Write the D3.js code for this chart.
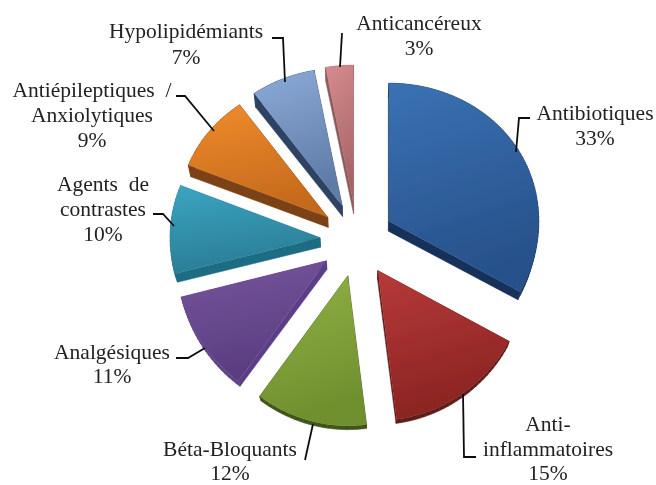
<!DOCTYPE html>
<html>
<head>
<meta charset="utf-8">
<script src="https://cdn.jsdelivr.net/npm/d3@7/dist/d3.min.js"></script>
<style>
  html, body { margin: 0; padding: 0; background: #fff; }
  text { font-family: "Liberation Serif", serif; font-size: 21.5px; fill: #222; text-anchor: middle; }
</style>
</head>
<body>
<script>
// data
var categories = ["Antibiotiques", "Anti-inflammatoires", "Béta-Bloquants", "Analgésiques",
                  "Agents de contrastes", "Antiépileptiques / Anxiolytiques", "Hypolipidémiants", "Anticancéreux"];
var values = [33, 15, 12, 11, 10, 9, 7, 3];
var labelLines = [
  ["Antibiotiques"], ["Anti-", "inflammatoires"], ["Béta-Bloquants"], ["Analgésiques"],
  ["Agents  de", "contrastes"], ["Antiépileptiques  /", "Anxiolytiques"], ["Hypolipidémiants"], ["Anticancéreux"]
];
var topColors = ["#3A72B4", "#B8393A", "#90B245", "#76569E", "#3BA5C2", "#F08B2C", "#8DABD8", "#D68C8E"];
var bottomColors = ["#27518A", "#8A2422", "#6F8F2E", "#5A3C80", "#2A7D96", "#C56A1C", "#5E7BA6", "#A66466"];
var wallColors = ["#16305A", "#5D1A19", "#3F5218", "#5C3E87", "#1F6C84", "#7A4312", "#2F4263", "#8C5A5A"];

// layout
var width = 656, height = 485;
var cx = 357, cy = 240, radius = 150, explode = 37;
var labelPos = [[595, 120], [548, 431], [230, 456], [112, 359], [103, 191], [92, 97], [186, 38], [419, 30]];
var labelStep = [25, 24.5, 24, 24, 25, 25, 26, 25];
var leaders = [
  [[516, 152], [519, 118], [530, 118]],
  [[463, 394], [464, 457], [476, 457]],
  [[313, 424], [305, 460]],
  [[205, 348], [188, 358], [176, 358]],
  [[174, 226], [163, 214], [153, 214]],
  [[214, 131], [185, 96], [176, 96]],
  [[285, 82], [283, 38], [272, 38]],
  [[340, 67], [342, 33]]
];

var svg = d3.select("body").append("svg")
    .attr("width", width)
    .attr("height", height);

var defs = svg.append("defs");

// the reference is a soft scan
defs.append("filter").attr("id", "soft")
    .append("feGaussianBlur").attr("stdDeviation", 0.45);

values.forEach(function(v, i) {
  var g = defs.append("linearGradient")
      .attr("id", "face" + i)
      .attr("x1", 0).attr("y1", 0).attr("x2", 0.25).attr("y2", 1);
  g.append("stop").attr("offset", "0%").attr("stop-color", topColors[i]);
  g.append("stop").attr("offset", "100%").attr("stop-color", bottomColors[i]);
});

// tilted disc: the near side of the pie looks a bit bigger than the far side
function project(angle, r) {
  var k = r / radius;
  return [k * radius * Math.sin(angle),
          -Math.cos(angle) * k * (144 - 6 * Math.cos(angle))];
}

// lower face of the slab, drawn as a shift towards the vanishing point
function lower(p) {
  return [p[0] + (cx - p[0]) * 0.015, p[1] + 10 - 0.03 * (p[1] - 220)];
}

var pie = d3.pie().sort(null).value(function(d) { return d; });
var line = d3.line();

var chart = svg.append("g").attr("filter", "url(#soft)");

var slices = chart.selectAll(".slice")
    .data(pie(values))
  .enter().append("g")
    .attr("class", "slice");

slices.each(function(d, i) {
  var g = d3.select(this);
  var mid = (d.startAngle + d.endAngle) / 2;
  var ox = cx + explode * Math.sin(mid);
  var oy = cy - explode * Math.cos(mid);

  // outline of the slice: apex then rim
  var n = Math.max(6, Math.round((d.endAngle - d.startAngle) * 30));
  var outline = [[ox, oy]];
  d3.range(n + 1).forEach(function(j) {
    var a = d.startAngle + (d.endAngle - d.startAngle) * j / n;
    var p = project(a, radius);
    outline.push([ox + p[0], oy + p[1]]);
  });

  // side wall, one quad per outline segment
  outline.forEach(function(p, j) {
    var q = outline[(j + 1) % outline.length];
    g.append("path")
      .attr("d", line([p, q, lower(q), lower(p)]) + "Z")
      .attr("fill", wallColors[i])
      .attr("stroke", wallColors[i])
      .attr("stroke-width", 0.5);
  });

  g.append("path")
    .attr("d", line(outline) + "Z")
    .attr("fill", "url(#face" + i + ")");
});

var overlay = svg.append("g").attr("filter", "url(#soft)");

overlay.selectAll(".leader")
    .data(leaders)
  .enter().append("path")
    .attr("class", "leader")
    .attr("d", function(d) { return line(d); })
    .attr("fill", "none")
    .attr("stroke", "#111")
    .attr("stroke-width", 1.8);

categories.forEach(function(c, i) {
  var lines = labelLines[i].concat([values[i] + "%"]);
  var t = overlay.append("text");
  lines.forEach(function(s, j) {
    t.append("tspan")
      .attr("x", labelPos[i][0])
      .attr("y", labelPos[i][1] + j * labelStep[i])
      .style("white-space", "pre")
      .text(s);
  });
});
</script>
</body>
</html>
